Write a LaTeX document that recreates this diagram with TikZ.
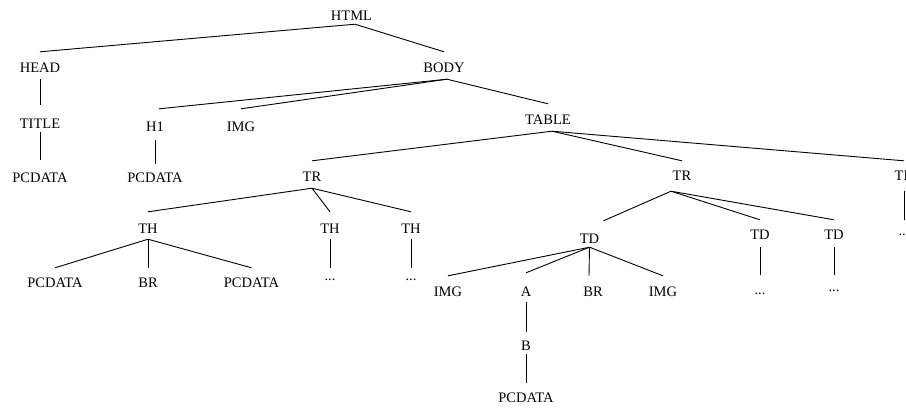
\documentclass[tikz,border=0pt]{standalone}
\usepackage{fontspec}
\setmainfont{Liberation Serif}
\begin{document}
\begin{tikzpicture}[x=1pt,y=-1pt,
    tag/.style={anchor=base,inner sep=0pt,text height=20pt,text depth=7pt,font=\fontsize{14.5}{16}\selectfont},
    dots/.style={tag,text height=12pt},
    link/.style={line width=0.9pt}]
  \useasboundingbox(0,0)rectangle(906,408);
  \clip(0,0)rectangle(906,408);
  % level 0 and 1
  \node[tag,text depth=4pt](html)at(351.5,20){HTML};
  \node[tag](head)at(40,72){HEAD};
  \node[tag](body)at(444,72){BODY};
  % level 2
  \node[tag,text height=23pt,text depth=4pt](title)at(40,128){TITLE};
  \node[tag,text height=22pt,text depth=9pt](h1)at(155,131){H1};
  \node[tag,text height=22pt](img1)at(241,131){IMG};
  \node[tag](table)at(548,124){TABLE};
  % level 3
  \node[tag,text height=22pt](pcd1)at(40,182){PCDATA};
  \node[tag,text height=18pt](pcd2)at(155,182){PCDATA};
  \node[tag](tr1)at(312,181){TR};
  \node[tag,text height=19pt,text depth=11pt](tr2)at(682,180){TR};
  \node[tag,text height=19pt,text depth=11pt](tr3)at(904,180){TR};
  % level 4
  \node[tag,text height=21pt,text depth=6pt](th1)at(148,233){TH};
  \node[tag,text height=21pt,text depth=6pt](th2)at(330,233){TH};
  \node[tag,text height=21pt,text depth=6pt](th3)at(411,233){TH};
  \node[tag,text height=22pt,text depth=4pt](td1)at(589.5,243){TD};
  \node[tag,text height=19pt,text depth=8pt](td2)at(760,239){TD};
  \node[tag,text height=19pt,text depth=8pt](td3)at(834,239){TD};
  \node[dots,text height=15pt](dots5)at(904,235){...};
  % level 5
  \node[tag,text height=19pt](pcd3)at(55,287){PCDATA};
  \node[tag,text height=19pt](br1)at(148,287){BR};
  \node[tag,text height=19pt](pcd4)at(251.5,287){PCDATA};
  \node[dots](dots1)at(330,280){...};
  \node[dots](dots2)at(411,280){...};
  \node[tag](img2)at(448,296){IMG};
  \node[tag,text height=23pt,text depth=6pt](a)at(526,296){A};
  \node[tag](br2)at(593,296){BR};
  \node[tag](img3)at(663,296){IMG};
  \node[dots,text height=19pt](dots3)at(760,294){...};
  \node[dots,text height=16pt](dots4)at(834,291){...};
  % level 6 and 7
  \node[tag,text height=18pt,text depth=4pt](b)at(526,350){B};
  \node[tag,text height=19pt](pcd5)at(526,402){PCDATA};

  % edges
  \draw[link]([xshift=3.5pt]html.south)--(head.north);
  \draw[link]([xshift=3.5pt]html.south)--(body.north);
  \draw[link](head.south)--(title.north);
  \draw[link](title.south)--(pcd1.north);
  \draw[link]([xshift=3pt]body.south)--([xshift=4pt]h1.north);
  \draw[link]([xshift=3pt]body.south)--(img1.north);
  \draw[link]([xshift=3pt]body.south)--(table.north);
  \draw[link](h1.south)--(pcd2.north);
  \draw[link]([xshift=4pt]table.south)--(tr1.north);
  \draw[link]([xshift=4pt]table.south)--(tr2.north);
  \draw[link]([xshift=4pt]table.south)--(tr3.north);
  \draw[link](tr1.south)--(th1.north);
  \draw[link](tr1.south)--(th2.north);
  \draw[link](tr1.south)--(th3.north);
  \draw[link]([xshift=-11pt]tr2.south)--([xshift=14pt]td1.north);
  \draw[link]([xshift=-11pt]tr2.south)--(td2.north);
  \draw[link]([xshift=-11pt]tr2.south)--(td3.north);
  \draw[link](tr3.south)--(dots5.north);
  \draw[link](th1.south)--(pcd3.north);
  \draw[link](th1.south)--(br1.north);
  \draw[link](th1.south)--(pcd4.north);
  \draw[link](th2.south)--(dots1.north);
  \draw[link](th3.south)--(dots2.north);
  \draw[link](td1.south)--(img2.north);
  \draw[link](td1.south)--(a.north);
  \draw[link](td1.south)--([xshift=-4pt]br2.north);
  \draw[link](td1.south)--(img3.north);
  \draw[link](td2.south)--(dots3.north);
  \draw[link](td3.south)--(dots4.north);
  \draw[link](a.south)--(b.north);
  \draw[link](b.south)--(pcd5.north);
\end{tikzpicture}
\end{document}
